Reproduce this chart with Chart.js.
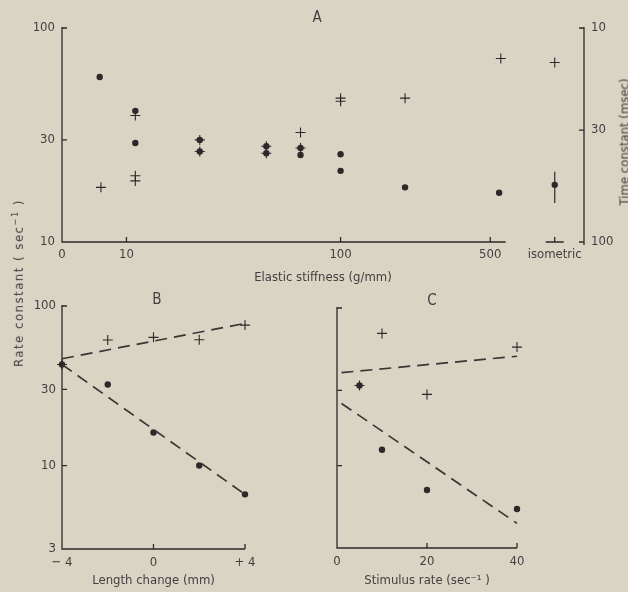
<!DOCTYPE html>
<html>
<head>
<meta charset="utf-8">
<script src="https://cdn.jsdelivr.net/npm/chart.js@4.4.1/dist/chart.umd.min.js"></script>
<style>
  html, body { margin: 0; padding: 0; background: #dad4c5; }
  body { width: 628px; height: 592px; position: relative; overflow: hidden;
         font-family: 'DejaVu Sans Condensed', 'Liberation Sans Narrow', 'DejaVu Sans', sans-serif; color: #463d40; }
  canvas { position: absolute; }
  .lbl { position: absolute; transform: translate(-50%, -50%); white-space: nowrap; }
  .rot { transform: translate(-50%, -50%) rotate(-90deg); }
  sup { font-size: 70%; }
</style>
</head>
<body>
<canvas id="chartA" width="628" height="292" style="left:0;top:0"></canvas>
<canvas id="chartB" width="300" height="302" style="left:0;top:290px"></canvas>
<canvas id="chartC" width="328" height="302" style="left:300px;top:290px"></canvas>

<div class="lbl" style="left:317px;top:17px;font-size:15px">A</div>
<div class="lbl" style="left:157px;top:299px;font-size:15px">B</div>
<div class="lbl" style="left:432px;top:300px;font-size:15px">C</div>
<div class="lbl rot" style="left:18px;top:283px;font-size:13px;letter-spacing:1.5px">Rate constant ( sec<sup>−1</sup> )</div>
<div class="lbl rot" style="left:624px;top:142px;font-size:13px">Time constant (msec)</div>

<script>
const INK = '#2f2729';
const TXT = '#463d40';
const FONT = "'DejaVu Sans Condensed', 'Liberation Sans Narrow', 'DejaVu Sans', sans-serif";

// ---- panel A: rate constant vs elastic stiffness ----
const stiffDots  = [7.5, 11, 11, 22, 22, 45, 45, 65, 65, 100, 100, 200, 550];
const rateDots   = [59, 41, 29, 30, 26.5, 28, 26, 27.5, 25.5, 25.7, 21.5, 18, 17];
const stiffCross = [7.6, 11, 11, 11, 22, 22, 45, 45, 65, 65, 100, 100, 200, 560];
const rateCross  = [18, 39, 20.4, 19.3, 30, 26.5, 28, 26, 32.5, 27.5, 47, 45.5, 47, 72];
const ISO = 1000;           // where "isometric" sits on the stiffness axis
const isoDot = 18.5;
const isoCross = 69;
const isoRange = [15.2, 21.3];
const stiffTicks = [5, 10, 100, 500, ISO];
const stiffLabels = ['0', '10', '100', '500', 'isometric'];
const rateTicks = [10, 30, 100];
const timeTicks = [100, 30, 10];  // msec, right axis (rate = 1000 / t)

// ---- panel B: length change ----
const lenChange   = [-4, -2, 0, 2, 4];
const lenDots     = [43, 32.2, 16.1, 10, 6.6];
const lenCross    = [43, 61.2, 63.6, 61.5, 75.9];
const lenFitX     = [-4, 4];
const lenFitCross = [46.7, 77.8];
const lenFitDots  = [43, 6.6];
const rateTicksB  = [3, 10, 30, 100];

// ---- panel C: stimulus rate ----
const stimDotsX    = [5, 10, 20, 40];
const stimDots     = [32.2, 12.6, 7.0, 5.3];
const stimCrossX   = [5, 10, 20, 40];
const stimCross    = [32.2, 69, 28.3, 56.5];
const stimFitX     = [1, 40];
const stimFitCross = [38.9, 49.4];
const stimFitDots  = [24.8, 4.3];

Chart.defaults.font.family = FONT;
Chart.defaults.font.size = 13;
Chart.defaults.color = TXT;

const pts = (xs, ys) => xs.map((x, i) => ({ x, y: ys[i] }));

const dotSet = data => ({ data, pointStyle: 'circle', pointRadius: 3.2, backgroundColor: INK, borderWidth: 0, clip: false });
const crossSet = data => ({ data, pointStyle: 'cross', pointRadius: 5, borderColor: INK, borderWidth: 1.1, clip: false });
const dashSet = data => ({ data, showLine: true, pointRadius: 0, borderColor: '#3f3336', borderWidth: 1.7, borderDash: [12, 7], clip: false });

// axis lines and inward tick marks, placed through the chart's scales
function inkAxes(spec) {
  return {
    id: 'inkAxes',
    afterDatasetsDraw(chart) {
      const { ctx, chartArea: a, scales } = chart;
      const x = scales.x, y = scales.y;
      const T = 5;
      ctx.save();
      ctx.strokeStyle = INK;
      ctx.lineWidth = 1.3;
      ctx.beginPath();
      ctx.moveTo(a.left, a.top - 1);
      ctx.lineTo(a.left, a.bottom);
      ctx.lineTo(spec.xEnd !== undefined ? x.getPixelForValue(spec.xEnd) : a.right, a.bottom);
      spec.xTicks.forEach(v => {
        const px = x.getPixelForValue(v);
        ctx.moveTo(px, a.bottom); ctx.lineTo(px, a.bottom - T);
      });
      spec.yTicks.forEach(v => {
        const py = y.getPixelForValue(v);
        ctx.moveTo(a.left, py); ctx.lineTo(a.left + T, py);
      });
      if (spec.right) {
        ctx.moveTo(a.right, a.top - 1); ctx.lineTo(a.right, a.bottom + 3);
        spec.right.forEach(v => {
          const py = y.getPixelForValue(v);
          ctx.moveTo(a.right, py); ctx.lineTo(a.right - T, py);
        });
      }
      if (spec.iso !== undefined) {
        const px = x.getPixelForValue(spec.iso);
        ctx.moveTo(px - 9, a.bottom); ctx.lineTo(px + 9, a.bottom);
        ctx.moveTo(px, a.bottom); ctx.lineTo(px, a.bottom - T);
      }
      ctx.stroke();
      ctx.restore();
    }
  };
}

const common = {
  responsive: false,
  animation: false,
  plugins: { legend: { display: false }, tooltip: { enabled: false } },
};

// ---- chart A ----
new Chart(document.getElementById('chartA'), {
  type: 'scatter',
  data: {
    datasets: [
      dotSet(pts(stiffDots, rateDots).concat([{ x: ISO, y: isoDot }])),
      crossSet(pts(stiffCross, rateCross).concat([{ x: ISO, y: isoCross }])),
      { ...dashSet(isoRange.map(v => ({ x: ISO, y: v }))), borderDash: [], borderWidth: 1.3 }
    ]
  },
  options: {
    ...common,
    layout: { padding: { top: 28 } },
    scales: {
      x: {
        type: 'logarithmic', min: 5, max: 1370,
        grid: { display: false, drawTicks: false }, border: { display: false },
        afterBuildTicks: s => { s.ticks = stiffTicks.map(v => ({ value: v })); },
        afterFit: s => { s.height = 50; },
        ticks: { autoSkip: false, maxRotation: 0, padding: 5, callback: (v, i) => stiffLabels[i] },
        title: { display: true, text: 'Elastic stiffness (g/mm)', padding: { top: 0, bottom: 7 } }
      },
      y: {
        type: 'logarithmic', min: 10, max: 100, position: 'left',
        grid: { display: false, drawTicks: false }, border: { display: false },
        afterBuildTicks: s => { s.ticks = rateTicks.map(v => ({ value: v })); },
        afterFit: s => { s.width = 62; },
        ticks: { padding: 7, callback: v => String(v) }
      },
      y2: {
        type: 'logarithmic', min: 10, max: 100, position: 'right',
        grid: { display: false, drawTicks: false }, border: { display: false },
        afterBuildTicks: s => { s.ticks = timeTicks.map(t => ({ value: 1000 / t })); },
        afterFit: s => { s.width = 44; },
        ticks: { padding: 7, callback: v => String(Math.round(1000 / v)) }
      }
    }
  },
  plugins: [inkAxes({ xEnd: 590, xTicks: [10, 100, 500], yTicks: rateTicks, right: timeTicks.map(t => 1000 / t), iso: ISO })]
});

// ---- chart B ----
new Chart(document.getElementById('chartB'), {
  type: 'scatter',
  data: {
    datasets: [
      dashSet(pts(lenFitX, lenFitCross)),
      dashSet(pts(lenFitX, lenFitDots)),
      dotSet(pts(lenChange, lenDots)),
      crossSet(pts(lenChange, lenCross))
    ]
  },
  options: {
    ...common,
    layout: { padding: { top: 16, right: 55 } },
    scales: {
      x: {
        type: 'linear', min: -4, max: 4,
        grid: { display: false, drawTicks: false }, border: { display: false },
        afterBuildTicks: s => { s.ticks = [-4, 0, 4].map(v => ({ value: v })); },
        afterFit: s => { s.height = 43; },
        ticks: { autoSkip: false, maxRotation: 0, padding: 6, callback: v => v < 0 ? '− ' + (-v) : v > 0 ? '+ ' + v : '0' },
        title: { display: true, text: 'Length change (mm)', padding: { top: 0, bottom: 4 } }
      },
      y: {
        type: 'logarithmic', min: 3, max: 100,
        grid: { display: false, drawTicks: false }, border: { display: false },
        afterBuildTicks: s => { s.ticks = rateTicksB.map(v => ({ value: v })); },
        afterFit: s => { s.width = 62; },
        ticks: { padding: 6, callback: v => String(v) }
      }
    }
  },
  plugins: [inkAxes({ xTicks: [0, 4], yTicks: [10, 30, 100] })]
});

// ---- chart C ----
new Chart(document.getElementById('chartC'), {
  type: 'scatter',
  data: {
    datasets: [
      dashSet(pts(stimFitX, stimFitCross)),
      dashSet(pts(stimFitX, stimFitDots)),
      dotSet(pts(stimDotsX, stimDots)),
      crossSet(pts(stimCrossX, stimCross))
    ]
  },
  options: {
    ...common,
    layout: { padding: { top: 18, right: 111 } },
    scales: {
      x: {
        type: 'linear', min: 0, max: 40,
        grid: { display: false, drawTicks: false }, border: { display: false },
        afterBuildTicks: s => { s.ticks = [0, 20, 40].map(v => ({ value: v })); },
        afterFit: s => { s.height = 44; },
        ticks: { autoSkip: false, maxRotation: 0, padding: 6 },
        title: { display: true, text: 'Stimulus rate (sec⁻¹ )', padding: { top: 0, bottom: 4 } }
      },
      y: {
        type: 'logarithmic', min: 3, max: 100,
        grid: { display: false, drawTicks: false }, border: { display: false },
        afterFit: s => { s.width = 37; },
        ticks: { display: false }
      }
    }
  },
  plugins: [inkAxes({ xTicks: [20, 40], yTicks: [10, 30, 100] })]
});
</script>
</body>
</html>
